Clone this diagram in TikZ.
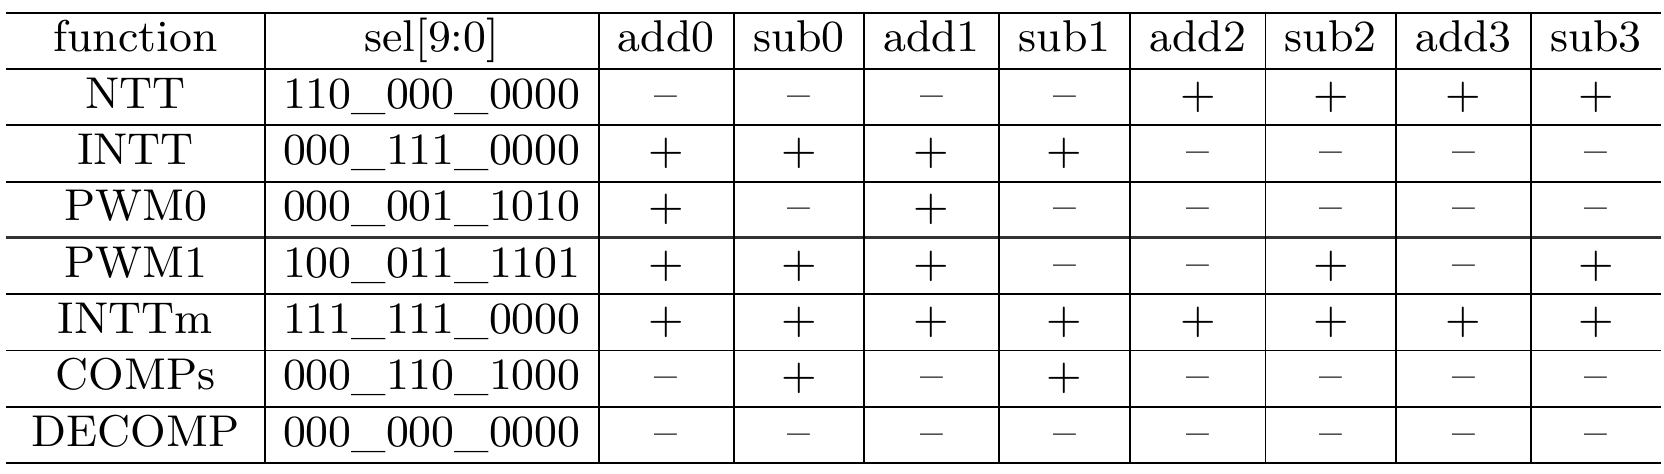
\documentclass[tikz,border=0pt]{standalone}
\usepackage{tikz}
\usetikzlibrary{positioning}

\begin{document}
\begin{tikzpicture}[
    x=0.21pt, y=-0.21pt,
    cell/.style={anchor=base, inner sep=0pt, font=\fontsize{9.35pt}{11pt}\selectfont}, % セルの文字
    hrule/.style={line width=0.6pt, black!80} % PWM0 と PWM1 の間の太い線
    ]
\useasboundingbox (0,0) rectangle (1664,474);

% 罫線
\foreach \y in {12.7,69,125.3,181.6,294.2,350.5,406.8,463.1}
  \draw (6,\y) -- (1661,\y);
\draw[hrule] (6,237.9) -- (1661,237.9);
\foreach \x in {265,598.6,734,864,999,1130,1265.5,1396,1531}
  \draw (\x,12.7) -- (\x,463.1);

% 見出し
\node[cell] (fn) at (135.5,51.5) {function};
\node[cell] (sel) at (431.8,51.5) {sel[9:0]};
\foreach \n/\x [count=\i] in {add0/666.3,sub0/799,add1/931.5,sub1/1064.5,add2/1197.8,sub2/1330.8,add3/1463.5,sub3/1596}
  \node[cell] (c\i) at (\x,51.5) {\n};

% 各行
\node[cell] (ntt) at (135.5,108.3) {NTT};
\node[cell] (ntt-sel) at (431.8,108.3) {110\_000\_0000};
\foreach \s [count=\i] in {--,--,--,--,+,+,+,+}
  \node[cell] (ntt-\i) at (c\i |- ntt.base) {\s};

\node[cell] (intt) at (135.5,164.6) {INTT};
\node[cell] (intt-sel) at (431.8,164.6) {000\_111\_0000};
\foreach \s [count=\i] in {+,+,+,+,--,--,--,--}
  \node[cell] (intt-\i) at (c\i |- intt.base) {\s};

\node[cell] (pwm0) at (135.5,220.9) {PWM0};
\node[cell] (pwm0-sel) at (431.8,220.9) {000\_001\_1010};
\foreach \s [count=\i] in {+,--,+,--,--,--,--,--}
  \node[cell] (pwm0-\i) at (c\i |- pwm0.base) {\s};

\node[cell] (pwm1) at (135.5,277.2) {PWM1};
\node[cell] (pwm1-sel) at (431.8,277.2) {100\_011\_1101};
\foreach \s [count=\i] in {+,+,+,--,--,+,--,+}
  \node[cell] (pwm1-\i) at (c\i |- pwm1.base) {\s};

\node[cell] (inttm) at (135.5,333.5) {INTTm};
\node[cell] (inttm-sel) at (431.8,333.5) {111\_111\_0000};
\foreach \s [count=\i] in {+,+,+,+,+,+,+,+}
  \node[cell] (inttm-\i) at (c\i |- inttm.base) {\s};

\node[cell] (comps) at (135.5,389.8) {COMPs};
\node[cell] (comps-sel) at (431.8,389.8) {000\_110\_1000};
\foreach \s [count=\i] in {--,+,--,+,--,--,--,--}
  \node[cell] (comps-\i) at (c\i |- comps.base) {\s};

\node[cell] (decomp) at (135.5,446.1) {DECOMP};
\node[cell] (decomp-sel) at (431.8,446.1) {000\_000\_0000};
\foreach \s [count=\i] in {--,--,--,--,--,--,--,--}
  \node[cell] (decomp-\i) at (c\i |- decomp.base) {\s};
\end{tikzpicture}
\end{document}
